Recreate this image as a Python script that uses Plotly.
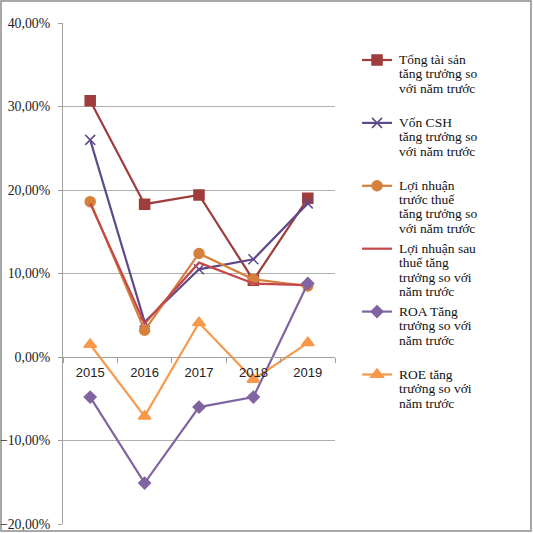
import plotly.graph_objects as go

years = ["2015", "2016", "2017", "2018", "2019"]

tong_tai_san = [0.307, 0.183, 0.194, 0.092, 0.190]
von_csh = [0.260, 0.042, 0.105, 0.117, 0.184]
ln_truoc_thue = [0.186, 0.032, 0.124, 0.093, 0.085]
ln_sau_thue = [0.184, 0.040, 0.113, 0.088, 0.086]
roa = [-0.048, -0.151, -0.060, -0.048, 0.088]
roe = [0.015, -0.071, 0.041, -0.027, 0.017]

# legend labels, one list of lines per series (wrapped as in the original)
labels = [
    ["Tổng tài sản", "tăng trưởng so", "với năm trước"],
    ["Vốn CSH", "tăng trưởng so", "với năm trước"],
    ["Lợi nhuận", "trước thuế", "tăng trưởng so", "với năm trước"],
    ["Lợi nhuận sau", "thuế tăng", "trưởng so với", "năm trước"],
    ["ROA Tăng", "trưởng so với", "năm trước"],
    ["ROE tăng", "trưởng so với", "năm trước"],
]

SERIF = "Liberation Serif, Times New Roman, serif"

fig = go.Figure()

# series: values, colour, marker symbol, marker size
series = [
    (tong_tai_san, "#9e3d3b", "square", 10),
    (von_csh, "#5e4a8a", "x-thin-open", 10),
    (ln_truoc_thue, "#d5813c", "circle", 10),
    (ln_sau_thue, "#c4474a", None, 0),
    (roa, "#8064a2", "diamond", 9),
    (roe, "#f7984a", "triangle-up", 11),
]

for i, ((vals, col, sym, sz), lab) in enumerate(zip(series, labels)):
    if sym is None:
        mode = "lines"
        marker = dict()
    else:
        mode = "lines+markers"
        marker = dict(symbol=sym, size=sz, color=col, line=dict(color=col, width=1.5))
    fig.add_trace(go.Scatter(x=years, y=vals, name="", legendgroup=f"g{i}",
                             hovertemplate=" ".join(lab) + ": %{y:.2%}<extra></extra>",
                             mode=mode, line=dict(color=col, width=2.2), marker=marker))

# legend text drawn line by line, Excel-style tight leading
px_w, px_h = 272, 501   # plot area size in pixels
for i, lab in enumerate(labels):
    for j, line in enumerate(lab):
        ypx = 59 + 63 * i + 14.5 * j
        fig.add_annotation(text=line, xref="paper", yref="paper",
                           x=(397 - 63) / px_w, y=(524 - ypx) / px_h,
                           xanchor="left", yanchor="middle", showarrow=False,
                           font=dict(family=SERIF, size=13.5, color="#111111"))

fig.update_layout(
    width=533, height=533,
    margin=dict(l=63, r=198, t=23, b=9, autoexpand=False),
    paper_bgcolor="white", plot_bgcolor="white",
    separators=",.",
    font=dict(family=SERIF, size=13, color="#222222"),
    legend=dict(x=1.081, y=0.956, xanchor="left", yanchor="top",
                font=dict(size=13, family=SERIF),
                tracegroupgap=43, itemwidth=30),
    showlegend=True,
)

fig.update_yaxes(range=[-0.2, 0.4], dtick=0.1, tickformat=".2%", automargin=False,
                 showgrid=True, gridcolor="#b0b0b0", gridwidth=1,
                 zeroline=False, showline=True, linecolor="#a0a0a0",
                 ticks="outside", ticklen=4, tickcolor="#a0a0a0", ticklabelstandoff=5,
                 tickfont=dict(family=SERIF, size=13.8, color="#222222"))

fig.update_xaxes(type="category", range=[-0.5, 4.5], automargin=False,
                 anchor="free", position=1 / 3,
                 showline=True, linecolor="#a0a0a0", showgrid=False,
                 ticks="outside", tickson="boundaries", ticklen=5, tickcolor="#a0a0a0",
                 ticklabelstandoff=3,
                 tickfont=dict(family="Liberation Sans, Arial, sans-serif", size=13, color="#222222"))

# outer chart border
fig.add_shape(type="rect", xref="paper", yref="paper",
              x0=(1 - 63) / px_w, x1=(531 - 63) / px_w,
              y0=(524 - 531) / px_h, y1=(524 - 1) / px_h,
              line=dict(color="#8c8c8c", width=1.5), layer="below")

# drop the default page margin so the 533px figure fills the window
fig.write_html("out.html", config={"displayModeBar": False},
               post_script="document.body.style.margin='0';")
